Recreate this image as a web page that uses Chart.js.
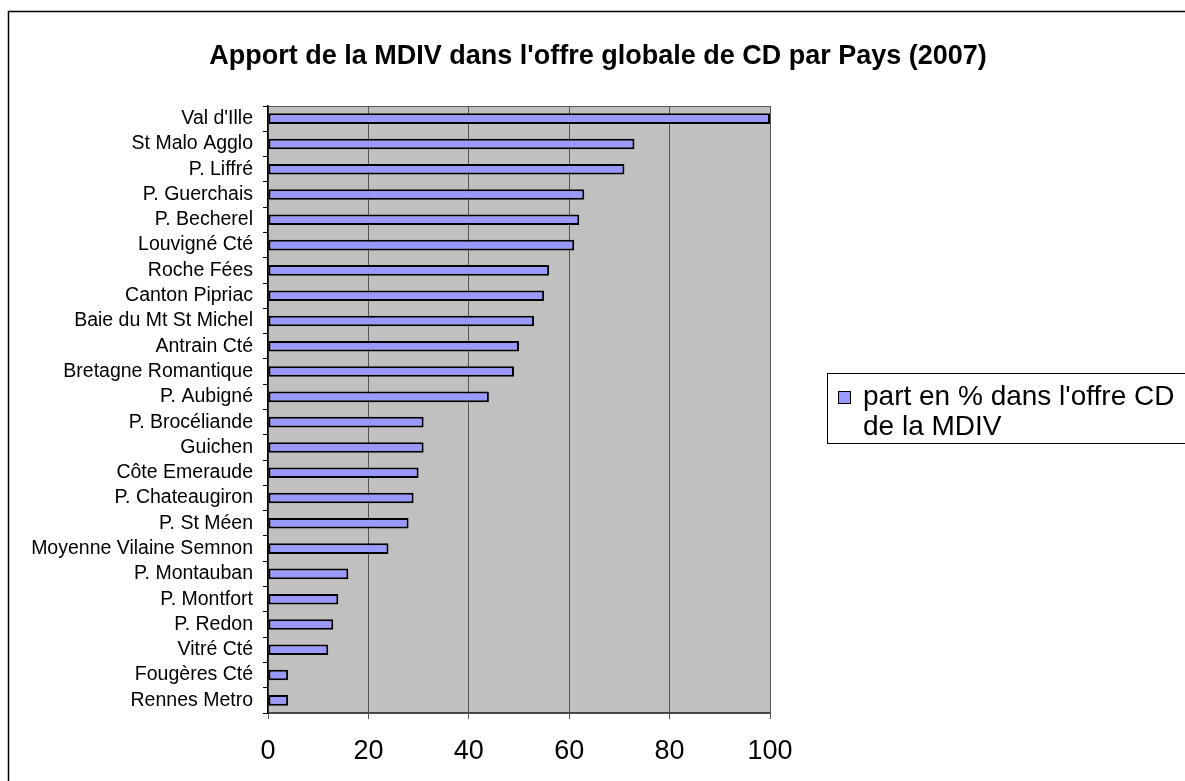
<!DOCTYPE html>
<html>
<head>
<meta charset="utf-8">
<script src="https://cdn.jsdelivr.net/npm/chart.js@4/dist/chart.umd.min.js"></script>
<style>
  body { margin: 0; background: #fff; }
</style>
</head>
<body>
<canvas id="barres" width="1185" height="781"></canvas>
<script>
const titre = "Apport de la MDIV dans l'offre globale de CD par Pays (2007)";
const pays = ["Val d'Ille", "St Malo Agglo", "P. Liffré", "P. Guerchais", "P. Becherel", "Louvigné Cté",
  "Roche Fées", "Canton Pipriac", "Baie du Mt St Michel", "Antrain Cté", "Bretagne Romantique", "P. Aubigné",
  "P. Brocéliande", "Guichen", "Côte Emeraude", "P. Chateaugiron", "P. St Méen", "Moyenne Vilaine Semnon",
  "P. Montauban", "P. Montfort", "P. Redon", "Vitré Cté", "Fougères Cté", "Rennes Metro"];
const partMDIV = [100, 73, 71, 63, 62, 61, 56, 55, 53, 50, 49, 44, 31, 31, 30, 29, 28, 24, 16, 14, 13, 12, 4, 4];
const graduations = [0, 20, 40, 60, 80, 100];
const legende = ["part en % dans l'offre CD", "de la MDIV"];

const police = '"Liberation Sans", Arial, sans-serif';

// fond gris, cadre, titre et légende dessinés à la main
const decor = {
  id: 'decor',
  beforeDraw(chart) {
    const { ctx, chartArea: a } = chart;
    ctx.save();
    ctx.fillStyle = '#fff';
    ctx.fillRect(0, 0, chart.width, chart.height);
    ctx.fillStyle = '#c0c0c0';
    ctx.fillRect(a.left, a.top, a.right - a.left, a.bottom - a.top);
    ctx.strokeStyle = '#555';
    ctx.lineWidth = 1;
    ctx.strokeRect(a.left + 0.5, a.top + 0.5, a.right - a.left, a.bottom - a.top);
    ctx.strokeStyle = '#000';
    ctx.lineWidth = 1.5;
    ctx.strokeRect(8.5, 11.5, 1300, 900);
    ctx.restore();
  },
  afterDraw(chart) {
    const { ctx } = chart;
    const ds = chart.data.datasets[0];
    ctx.save();
    ctx.fillStyle = '#000';
    ctx.font = 'bold 27px ' + police;
    ctx.textAlign = 'center';
    ctx.textBaseline = 'middle';
    ctx.fillText(titre, 598, 57);

    // légende
    ctx.strokeStyle = '#000';
    ctx.lineWidth = 1;
    ctx.strokeRect(827.5, 373.5, 400, 70);
    ctx.fillStyle = ds.backgroundColor;
    ctx.fillRect(838, 391, 12, 12);
    ctx.strokeRect(838.5, 391.5, 12, 12);
    ctx.fillStyle = '#000';
    ctx.font = '28px ' + police;
    ctx.textAlign = 'left';
    ctx.textBaseline = 'alphabetic';
    legende.forEach((l, i) => ctx.fillText(l, 863, 405 + i * 30));
    ctx.restore();
  }
};

new Chart(document.getElementById('barres'), {
  type: 'bar',
  data: {
    labels: pays,
    datasets: [{
      label: legende.join(' '),
      data: partMDIV,
      backgroundColor: '#9999ff',
      borderColor: '#000',
      borderWidth: 2,
      borderSkipped: false,
      barPercentage: 0.42,
      categoryPercentage: 1
    }]
  },
  options: {
    indexAxis: 'y',
    responsive: false,
    animation: false,
    layout: { padding: { top: 106, right: 415, left: 0, bottom: 0 } },
    plugins: {
      legend: { display: false },
      title: { display: false },
      tooltip: { enabled: false }
    },
    scales: {
      x: {
        min: graduations[0],
        max: graduations[graduations.length - 1],
        afterBuildTicks(scale) { scale.ticks = graduations.map(v => ({ value: v })); },
        afterFit(scale) { scale.height = 68; },
        grid: { color: '#555', tickColor: '#555', tickLength: 6, lineWidth: 1 },
        border: { color: '#444', width: 1.5 },
        ticks: { color: '#000', padding: 16, font: { family: police, size: 27 } }
      },
      y: {
        afterFit(scale) { scale.width = 268; },
        grid: { display: true, drawOnChartArea: false, offset: true, tickLength: 5, color: '#000' },
        border: { color: '#000', width: 1.5 },
        ticks: { color: '#000', padding: 10, autoSkip: false, font: { family: police, size: 19.5 } }
      }
    }
  },
  plugins: [decor]
});
</script>
</body>
</html>
